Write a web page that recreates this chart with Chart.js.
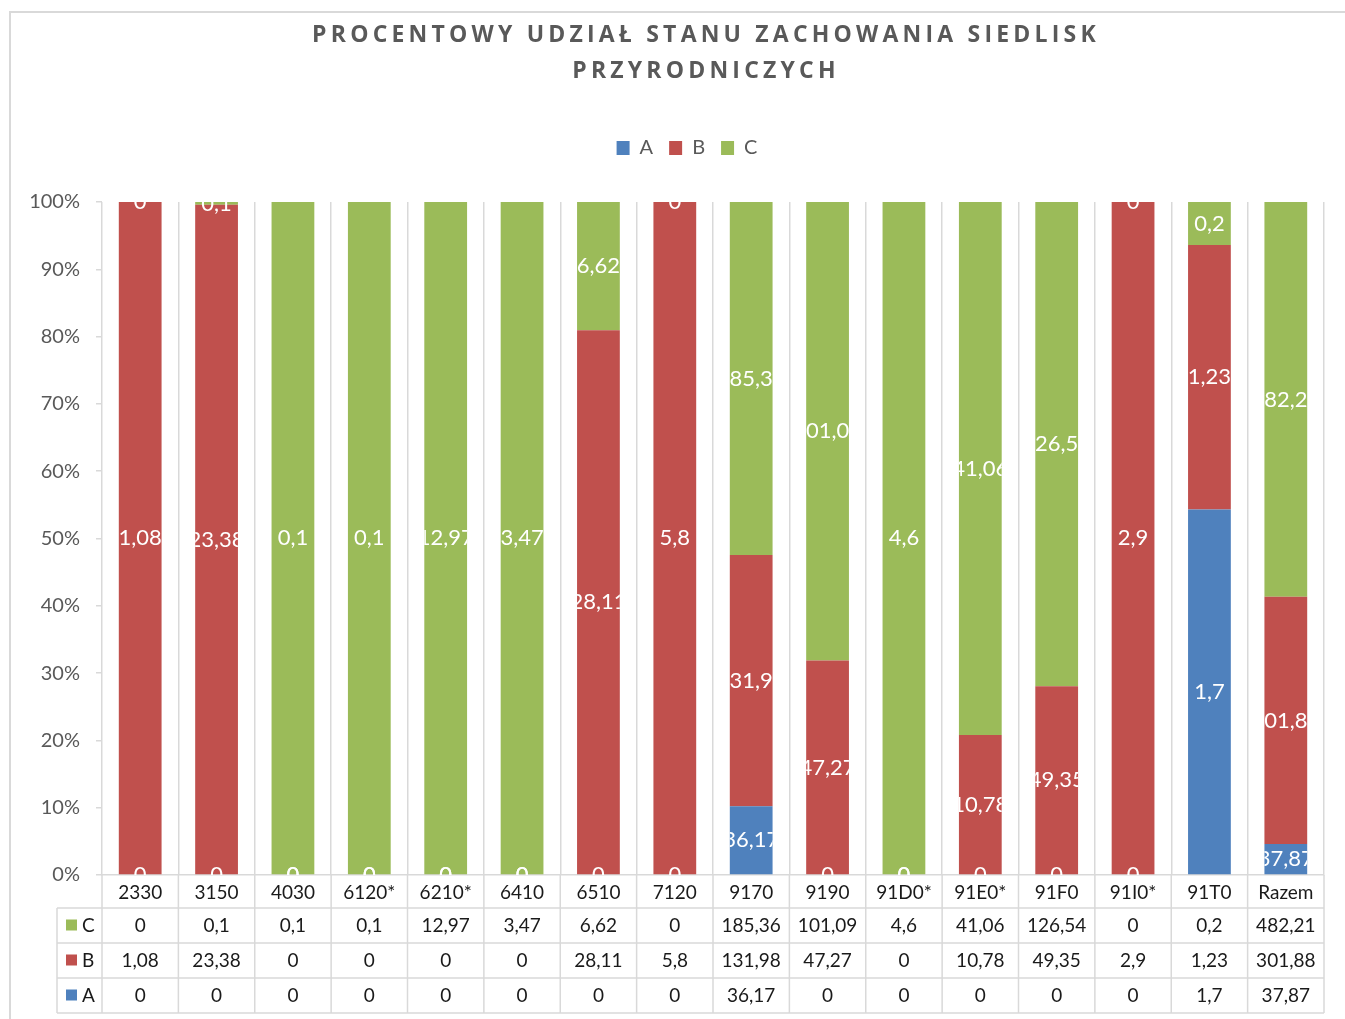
<!DOCTYPE html>
<html>
<head>
<meta charset="utf-8">
<script src="https://cdn.jsdelivr.net/npm/chart.js@4.4.1/dist/chart.umd.min.js"></script>
<style>
  html, body { margin: 0; padding: 0; background: #fff; }
  #wrap { position: absolute; left: 0; top: 0; width: 1345px; height: 1019px; }
</style>
</head>
<body>
<div id="wrap"><canvas id="chart" width="1345" height="1019"></canvas></div>
<script>
// Data
const categories = ["2330", "3150", "4030", "6120*", "6210*", "6410", "6510", "7120",
  "9170", "9190", "91D0*", "91E0*", "91F0", "91I0*", "91T0", "Razem"];
const valuesA = [0, 0, 0, 0, 0, 0, 0, 0, 36.17, 0, 0, 0, 0, 0, 1.7, 37.87];
const valuesB = [1.08, 23.38, 0, 0, 0, 0, 28.11, 5.8, 131.98, 47.27, 0, 10.78, 49.35, 2.9, 1.23, 301.88];
const valuesC = [0, 0.1, 0.1, 0.1, 12.97, 3.47, 6.62, 0, 185.36, 101.09, 4.6, 41.06, 126.54, 0, 0.2, 482.21];
const titleLines = ["PROCENTOWY UDZIAŁ STANU ZACHOWANIA SIEDLISK", "PRZYRODNICZYCH"];

const colA = "#4F81BD";
const colB = "#C0504D";
const colC = "#9BBB59";
const FONT = "Lato, 'Open Sans', sans-serif";

// share of each value in its category (100% stacked)
const totals = categories.map((c, i) => valuesA[i] + valuesB[i] + valuesC[i]);
const pct = arr => arr.map((v, i) => v / totals[i] * 100);
const fmt = v => String(v).replace(".", ",");

// Frame + title
const framePlugin = {
  id: "frame",
  afterLayout(chart) {
    // legend sits a bit right of the canvas centre
    chart.legend.left += 25;
    chart.legend.right += 25;
  },
  beforeDraw(chart) {
    const ctx = chart.ctx;
    ctx.save();
    ctx.strokeStyle = "#d9d9d9";
    ctx.lineWidth = 2;
    ctx.beginPath();
    ctx.moveTo(10, 1019);
    ctx.lineTo(10, 12);
    ctx.lineTo(1345, 12);
    ctx.stroke();

    ctx.fillStyle = "#595959";
    ctx.font = "bold 23px 'Open Sans', sans-serif";
    ctx.letterSpacing = "4.2px";
    ctx.textAlign = "center";
    ctx.textBaseline = "middle";
    ctx.fillText(titleLines[0], 706, 35);
    ctx.fillText(titleLines[1], 706, 71);
    ctx.restore();
  }
};

// White value labels inside the bars, clipped to the bar width
const labelPlugin = {
  id: "barLabels",
  afterDatasetsDraw(chart) {
    const ctx = chart.ctx;
    const area = chart.chartArea;
    chart.data.datasets.forEach((ds, di) => {
      const meta = chart.getDatasetMeta(di);
      meta.data.forEach((bar, i) => {
        const w = bar.width;
        const y = (bar.y + bar.base) / 2;
        ctx.save();
        ctx.beginPath();
        ctx.rect(bar.x - w / 2, area.top, w, area.bottom - area.top);
        ctx.clip();
        ctx.fillStyle = "#ffffff";
        ctx.font = "22px " + FONT;
        ctx.textAlign = "center";
        ctx.textBaseline = "middle";
        ctx.fillText(fmt(ds.raw[i]), bar.x, y);
        ctx.restore();
      });
    });
  }
};

// Data table under the axis
const tablePlugin = {
  id: "dataTable",
  afterDraw(chart) {
    const ctx = chart.ctx;
    const x = chart.scales.x;
    const area = chart.chartArea;
    const half = (x.getPixelForValue(1) - x.getPixelForValue(0)) / 2;
    const top = area.bottom;
    const rowY = [top + 33, top + 68, top + 103, top + 138];
    const rows = [["C", colC, valuesC], ["B", colB, valuesB], ["A", colA, valuesA]];
    const leftX = 57;

    ctx.save();
    ctx.strokeStyle = "#d9d9d9";
    ctx.lineWidth = 1.5;
    ctx.beginPath();
    rowY.forEach(y => { ctx.moveTo(leftX, y); ctx.lineTo(area.right, y); });
    ctx.moveTo(leftX, rowY[0]);
    ctx.lineTo(leftX, rowY[3]);
    for (let i = 0; i <= categories.length; i++) {
      const bx = x.getPixelForValue(i) - half;
      ctx.moveTo(bx, top);
      ctx.lineTo(bx, rowY[3]);
    }
    ctx.stroke();

    ctx.font = "19px " + FONT;
    ctx.textBaseline = "middle";
    rows.forEach((r, ri) => {
      const cy = (rowY[ri] + rowY[ri + 1]) / 2;
      ctx.fillStyle = r[1];
      ctx.fillRect(66, cy - 6, 11, 11);
      ctx.fillStyle = "#1a1a1a";
      ctx.textAlign = "left";
      ctx.fillText(r[0], 82, cy);
      ctx.textAlign = "center";
      r[2].forEach((v, i) => {
        ctx.fillText(fmt(v), x.getPixelForValue(i), cy);
      });
    });
    ctx.restore();
  }
};

const ctx = document.getElementById("chart").getContext("2d");
const chart = new Chart(ctx, {
  type: "bar",
  data: {
    labels: categories,
    datasets: [
      { label: "A", data: pct(valuesA), raw: valuesA, backgroundColor: colA },
      { label: "B", data: pct(valuesB), raw: valuesB, backgroundColor: colB },
      { label: "C", data: pct(valuesC), raw: valuesC, backgroundColor: colC }
    ]
  },
  options: {
    responsive: false,
    animation: false,
    layout: { padding: { top: 122, left: 0, right: 21, bottom: 6 } },
    datasets: { bar: { categoryPercentage: 1, barPercentage: 0.56 } },
    plugins: {
      tooltip: { enabled: false },
      legend: {
        position: "top",
        weight: 1000,
        labels: {
          boxWidth: 13, boxHeight: 14, padding: 16,
          color: "#595959",
          font: { family: FONT, size: 20 }
        }
      },
      // empty spacer between legend and plot
      subtitle: {
        display: true,
        text: "",
        weight: 100,
        font: { size: 14, lineHeight: 1 },
        padding: { top: 10, bottom: 10 }
      }
    },
    scales: {
      x: {
        stacked: true,
        grid: { offset: true, color: "#d9d9d9", lineWidth: 1.5, drawTicks: false },
        border: { color: "#d9d9d9", width: 1.5 },
        ticks: { color: "#1a1a1a", padding: 6, maxRotation: 0, font: { family: FONT, size: 19 } },
        afterFit(scale) { scale.height = 138; }
      },
      y: {
        stacked: true,
        min: 0, max: 100,
        grid: { drawOnChartArea: false, drawTicks: true, tickLength: 6, color: "#d9d9d9", lineWidth: 1.5 },
        border: { display: false },
        ticks: {
          stepSize: 10, padding: 16, color: "#595959",
          font: { family: FONT, size: 20 },
          callback: v => v + "%"
        },
        afterFit(scale) { scale.width = 102; }
      }
    }
  },
  plugins: [framePlugin, labelPlugin, tablePlugin]
});
</script>
</body>
</html>
